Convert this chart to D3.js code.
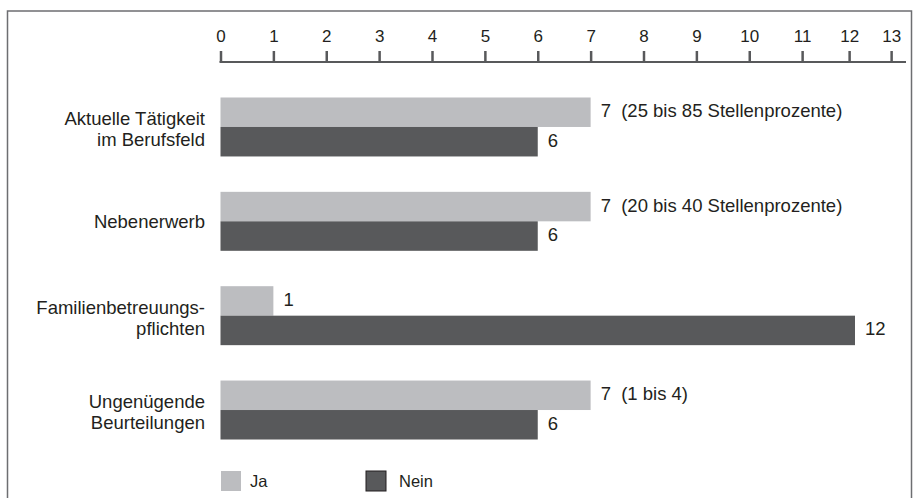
<!DOCTYPE html>
<html>
<head>
<meta charset="utf-8">
<script src="https://cdn.jsdelivr.net/npm/d3@7"></script>
<style>
  html, body { margin: 0; padding: 0; background: #fff; }
  svg { display: block; font-family: "Liberation Sans", Arial, sans-serif; }
</style>
</head>
<body>
<svg id="chart" width="920" height="498"></svg>
<script>
// Categories (label lines) and values per answer
const categories = [
  ["Aktuelle Tätigkeit", "im Berufsfeld"],
  ["Nebenerwerb"],
  ["Familienbetreuungs-", "pflichten"],
  ["Ungenügende", "Beurteilungen"]
];
const series = ["Ja", "Nein"];
const jaValues = [7, 7, 1, 7];
const neinValues = [6, 6, 12, 6];
const jaNotes = ["(25 bis 85 Stellenprozente)", "(20 bis 40 Stellenprozente)", "", "(1 bis 4)"];
const tickValues = [0, 1, 2, 3, 4, 5, 6, 7, 8, 9, 10, 11, 12, 13];

const colors = { Ja: "#bcbdc0", Nein: "#58595b" };
const ink = "#231f20";
const axisColor = "#58595b";

const svg = d3.select("#chart");

// Outer frame
svg.append("rect")
  .attr("x", 7.5).attr("y", 11)
  .attr("width", 904).attr("height", 520)
  .attr("fill", "none")
  .attr("stroke", "#6d6e71")
  .attr("stroke-width", 1.5);

// Value scale for the bars
const x = d3.scaleLinear().domain([0, 12]).range([220.5, 855]);

// Axis scale: the last two ticks are set closer together
const xAxisScale = d3.scaleLinear()
  .domain([0, 11, 12, 13])
  .range([x(0), x(11), x(11) + 47, x(11) + 89]);

const y = d3.scaleBand()
  .domain(d3.range(categories.length))
  .range([79.8, 457.2])
  .paddingInner(0.375)
  .paddingOuter(0.1875);

const ySub = d3.scaleBand()
  .domain(series)
  .range([0, y.bandwidth()]);

// Top axis
const axisY = 62;
const axisG = svg.append("g")
  .attr("transform", `translate(0,${axisY})`)
  .call(d3.axisTop(xAxisScale)
    .tickValues(tickValues)
    .tickFormat(d3.format("d"))
    .tickSizeInner(11)
    .tickSizeOuter(0)
    .tickPadding(9));
axisG.select(".domain").remove();
axisG.selectAll(".tick line")
  .attr("stroke", axisColor)
  .attr("stroke-width", 2.5);
axisG.selectAll(".tick text")
  .attr("fill", ink)
  .attr("font-size", 17);
svg.append("line")
  .attr("x1", x(0) - 1).attr("x2", 906)
  .attr("y1", axisY).attr("y2", axisY)
  .attr("stroke", axisColor)
  .attr("stroke-width", 2);

// Bars
const rows = categories.map((c, i) => ({
  i,
  values: [
    { key: "Ja", value: jaValues[i], note: jaNotes[i] },
    { key: "Nein", value: neinValues[i], note: "" }
  ]
}));

const groups = svg.append("g").selectAll("g")
  .data(rows)
  .join("g")
  .attr("transform", d => `translate(0,${y(d.i)})`);

groups.selectAll("rect")
  .data(d => d.values)
  .join("rect")
  .attr("x", x(0))
  .attr("y", d => ySub(d.key))
  .attr("width", d => x(d.value) - x(0))
  .attr("height", ySub.bandwidth())
  .attr("fill", d => colors[d.key]);

// Value labels
groups.selectAll("text.val")
  .data(d => d.values)
  .join("text")
  .attr("class", "val")
  .attr("x", d => x(d.value) + 10)
  .attr("y", d => ySub(d.key) + ySub.bandwidth() / 2 + 5)
  .attr("fill", ink)
  .attr("font-size", 18.5)
  .attr("xml:space", "preserve")
  .text(d => d.note ? `${d.value}  ${d.note}` : `${d.value}`);

// Category labels
const labels = svg.append("g").selectAll("text")
  .data(categories)
  .join("text")
  .attr("text-anchor", "end")
  .attr("fill", ink)
  .attr("font-size", 18.5);
labels.each(function (lines, i) {
  const cy = y(i) + y.bandwidth() / 2;
  const t = d3.select(this);
  const lh = 21;
  const first = lines.length === 1 ? cy + 6.5 : cy - 2;
  lines.forEach((line, k) => {
    t.append("tspan")
      .attr("x", 205)
      .attr("y", first + k * lh)
      .text(line);
  });
});

// Legend
const legend = svg.append("g");
const legendItems = [
  { key: "Ja", x: 221, tx: 250 },
  { key: "Nein", x: 366, tx: 399 }
];
legend.selectAll("rect")
  .data(legendItems)
  .join("rect")
  .attr("x", d => d.x)
  .attr("y", 471)
  .attr("width", 20)
  .attr("height", 20)
  .attr("fill", d => colors[d.key])
  .attr("stroke", d => d.key === "Nein" ? "#231f20" : "none")
  .attr("stroke-width", 1);
legend.selectAll("text")
  .data(legendItems)
  .join("text")
  .attr("x", d => d.tx)
  .attr("y", 487)
  .attr("fill", ink)
  .attr("font-size", 16.5)
  .text(d => d.key);
</script>
</body>
</html>
